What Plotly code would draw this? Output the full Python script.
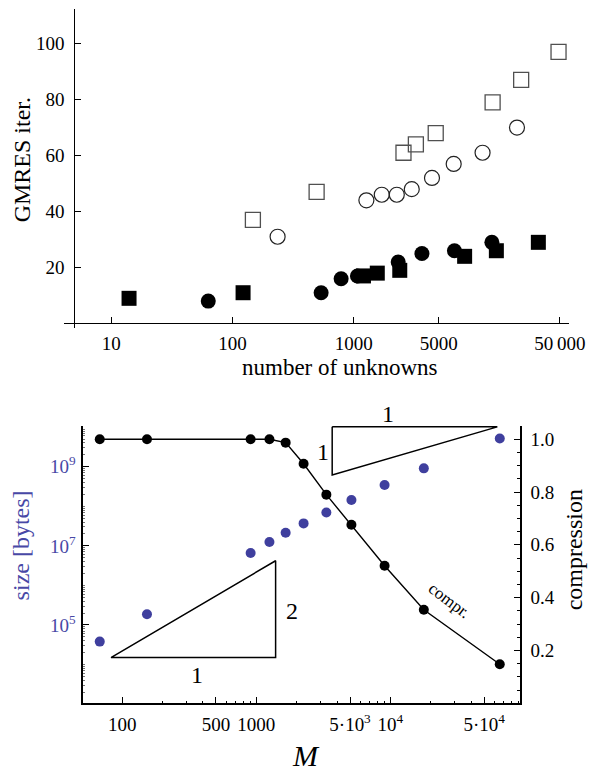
import numpy as np
import plotly.graph_objects as go

# ---------------- data: top panel (GMRES iterations) ----------------
sq_filled_x = [14, 122, 1200, 1560, 2390, 8190, 14960, 33200]
sq_filled_y = [9, 11, 17, 18, 19, 24, 26, 29]
circ_filled_x = [63, 537, 785, 1070, 2320, 3640, 6750, 13740]
circ_filled_y = [8, 11, 16, 17, 22, 25, 26, 29]
sq_open_x = [147, 493, 2565, 3245, 4730, 13930, 23950, 48700]
sq_open_y = [37, 47, 61, 64, 68, 79, 87, 97]
circ_open_x = [235, 1268, 1698, 2258, 3001, 4406, 6653, 11510, 22130]
circ_open_y = [31, 44, 46, 46, 48, 52, 57, 61, 70]

top_xticks = [10, 100, 1000, 5000, 50000]
top_xticktext = ["10", "100", "1000", "5000", "50\u2009000"]
top_yticks = [20, 40, 60, 80, 100]

# ---------------- data: bottom panel (size / compression) ----------------
M_vals = [68, 153, 907, 1253, 1655, 2252, 3330, 5120, 9050, 17750, 65400]
size_bytes = [3.8e4, 1.86e5, 6.6e6, 1.25e7, 2.15e7, 3.7e7, 7.0e7, 1.44e8, 3.44e8, 9.1e8, 5.2e9]
compression = [1.0, 1.0, 1.0, 1.0, 0.987, 0.907, 0.79, 0.676, 0.521, 0.354, 0.148]

bot_xticks = [100, 500, 1000, 5000, 10000, 50000]
bot_xticktext = ["100", "500", "1000", "5\u00b710<sup>3</sup>", "10<sup>4</sup>", "5\u00b710<sup>4</sup>"]
size_ticks = [1e5, 1e7, 1e9]
size_ticktext = ["10<sup>5</sup>", "10<sup>7</sup>", "10<sup>9</sup>"]
comp_ticks = [0.2, 0.4, 0.6, 0.8, 1.0]
comp_ticktext = ["0.2", "0.4", "0.6", "0.8", "1.0"]

# slope triangles (slope 2 and slope 1 guides)
tri2_x = [82.4, 1393, 1393, 82.4]
tri2_y = [1.5e4, 1.5e4, 4.2e6, 1.5e4]
tri1_x = [3680, 3680, 62700, 3680]
tri1_y = [1.02e10, 6.2e8, 1.02e10, 1.02e10]

x_minor = [200, 300, 400, 600, 700, 800, 900, 2000, 3000, 4000,
           6000, 7000, 8000, 9000, 20000, 30000, 40000, 60000, 70000, 80000, 90000]
y_minor = [k * 10.0 ** n for n in range(3, 10) for k in range(2, 10)] + [1e4, 1e6, 1e8]

FONT = "Liberation Serif, Times New Roman, Times, DejaVu Serif, serif"
BLUE = "#4848a6"
DOT_BLUE = "#3f3f9e"

fig = go.Figure()

# top panel traces
fig.add_trace(go.Scatter(x=sq_filled_x, y=sq_filled_y, mode="markers",
                         marker=dict(symbol="square", size=15, color="black"),
                         xaxis="x", yaxis="y", showlegend=False, cliponaxis=False))
fig.add_trace(go.Scatter(x=circ_filled_x, y=circ_filled_y, mode="markers",
                         marker=dict(symbol="circle", size=15, color="black"),
                         xaxis="x", yaxis="y", showlegend=False, cliponaxis=False))
fig.add_trace(go.Scatter(x=sq_open_x, y=sq_open_y, mode="markers",
                         marker=dict(symbol="square-open", size=15, color="#505050",
                                     line=dict(width=1.3)),
                         xaxis="x", yaxis="y", showlegend=False, cliponaxis=False))
fig.add_trace(go.Scatter(x=circ_open_x, y=circ_open_y, mode="markers",
                         marker=dict(symbol="circle-open", size=15, color="#222222",
                                     line=dict(width=1.2)),
                         xaxis="x", yaxis="y", showlegend=False, cliponaxis=False))

# bottom panel traces
fig.add_trace(go.Scatter(x=tri2_x, y=tri2_y, mode="lines",
                         line=dict(color="black", width=1.5),
                         xaxis="x2", yaxis="y2", showlegend=False, hoverinfo="skip",
                         cliponaxis=False))
fig.add_trace(go.Scatter(x=tri1_x, y=tri1_y, mode="lines",
                         line=dict(color="black", width=1.5),
                         xaxis="x2", yaxis="y2", showlegend=False, hoverinfo="skip",
                         cliponaxis=False))
fig.add_trace(go.Scatter(x=M_vals, y=size_bytes, mode="markers",
                         marker=dict(symbol="circle", size=10, color=DOT_BLUE),
                         xaxis="x2", yaxis="y2", showlegend=False, cliponaxis=False))
fig.add_trace(go.Scatter(x=M_vals, y=compression, mode="lines+markers",
                         line=dict(color="black", width=1.4),
                         marker=dict(symbol="circle", size=10, color="black"),
                         xaxis="x2", yaxis="y3", showlegend=False, cliponaxis=False))

tickfont = dict(family=FONT, size=19, color="black")

W, H = 604, 774
Y2_DOM = [1 - 703.3 / H, 1 - 426 / H]
Y2_RANGE = [3.02, 10.03]

fig.update_layout(
    width=W, height=H,
    margin=dict(l=0, r=0, t=0, b=0),
    paper_bgcolor="white", plot_bgcolor="white",
    font=dict(family=FONT, color="black"),
    xaxis=dict(type="log", domain=[66 / W, 585 / W], range=[0.611, 4.770],
               anchor="free", position=1 - 322.7 / H,
               showline=True, linecolor="black", linewidth=1.3,
               ticks="inside", ticklen=6, tickwidth=1.3, tickcolor="black",
               tickvals=top_xticks, ticktext=top_xticktext,
               showgrid=False, zeroline=False, tickfont=tickfont,
               ticklabelstandoff=3),
    yaxis=dict(domain=[1 - 328 / H, 1 - 9.4 / H], range=[-1.6, 112.2],
               anchor="free", position=76.5 / W,
               showline=True, linecolor="black", linewidth=1.3,
               ticks="inside", ticklen=6, tickwidth=1.3, tickcolor="black",
               tickvals=top_yticks, showgrid=False, zeroline=False,
               tickfont=tickfont, ticklabelstandoff=6),
    xaxis2=dict(type="log", domain=[85.6 / W, 535 / W], range=[1.709, 4.966],
                anchor="y2", showline=True, linecolor="black", linewidth=1.6,
                ticks="inside", ticklen=7, tickwidth=1.2, tickcolor="black",
                tickvals=bot_xticks, ticktext=bot_xticktext,
                minor=dict(tickvals=x_minor, ticks="inside", ticklen=3,
                           tickwidth=1, tickcolor="black"),
                showgrid=False, zeroline=False, tickfont=tickfont,
                ticklabelstandoff=3),
    yaxis2=dict(type="log", domain=Y2_DOM, range=Y2_RANGE,
                anchor="x2", showline=True, linecolor="black", linewidth=1.6,
                ticks="inside", ticklen=6, tickwidth=1.2, tickcolor="black",
                tickvals=size_ticks, ticktext=size_ticktext,
                minor=dict(tickvals=y_minor, ticks="inside", ticklen=2,
                           tickwidth=1, tickcolor="#777777"),
                showgrid=False, zeroline=False,
                tickfont=dict(family=FONT, size=19, color=BLUE),
                ticklabelstandoff=2),
    yaxis3=dict(domain=Y2_DOM, range=[0, 1.05],
                anchor="x2", overlaying="y2", side="right",
                showline=True, linecolor="black", linewidth=1.6,
                ticks="inside", ticklen=6, tickwidth=1.2, tickcolor="black",
                tickvals=comp_ticks, ticktext=comp_ticktext,
                minor=dict(dtick=0.05, ticks="inside", ticklen=3,
                           tickwidth=1, tickcolor="black"),
                showgrid=False, zeroline=False, tickfont=tickfont,
                ticklabelstandoff=5),
)

ann = []
def paper_text(text, px, py, size, angle=0, color="black", yanchor="middle"):
    ann.append(dict(text=text, x=px / W, y=1 - py / H, xref="paper", yref="paper",
                    showarrow=False, textangle=angle, xanchor="center", yanchor=yanchor,
                    font=dict(family=FONT, size=size, color=color)))

paper_text("GMRES iter.", 23, 160, 24, angle=-90)
paper_text("number of unknowns", 350, 367, 23)
paper_text("size [bytes]", 22, 545, 24, angle=-90, color=BLUE)
paper_text("compression", 591, 550, 24, angle=-90)
paper_text("<i>M</i>", 315, 774, 30, yanchor="bottom")

# triangle labels and curve label (log axes take log10)
def data_text(text, xv, yv, size, yref="y2", angle=0, ylog=True):
    ann.append(dict(text=text, x=np.log10(xv), y=(np.log10(yv) if ylog else yv),
                    xref="x2", yref=yref, showarrow=False, textangle=angle,
                    xanchor="center", yanchor="middle",
                    font=dict(family=FONT, size=size, color="black")))

data_text("1", 362, 5.5e3, 24)
data_text("2", 1860, 2.2e5, 24)
data_text("1", 3120, 2.4e9, 24)
data_text("compr.", 27500, 0.39, 17, yref="y3", angle=37, ylog=False)

# label above the slope-1 triangle lies above the axis range -> place in y2 domain units
top_label_y = (np.log10(2.1e10) - Y2_RANGE[0]) / (Y2_RANGE[1] - Y2_RANGE[0])
ann.append(dict(text="1", x=np.log10(9600), y=top_label_y, xref="x2", yref="y2 domain",
                showarrow=False, xanchor="center", yanchor="middle",
                font=dict(family=FONT, size=24, color="black")))

fig.update_layout(annotations=ann)

fig.write_html("out.html", config={"displayModeBar": False},
               post_script="document.body.style.margin='0px';document.body.style.overflow='hidden';")
